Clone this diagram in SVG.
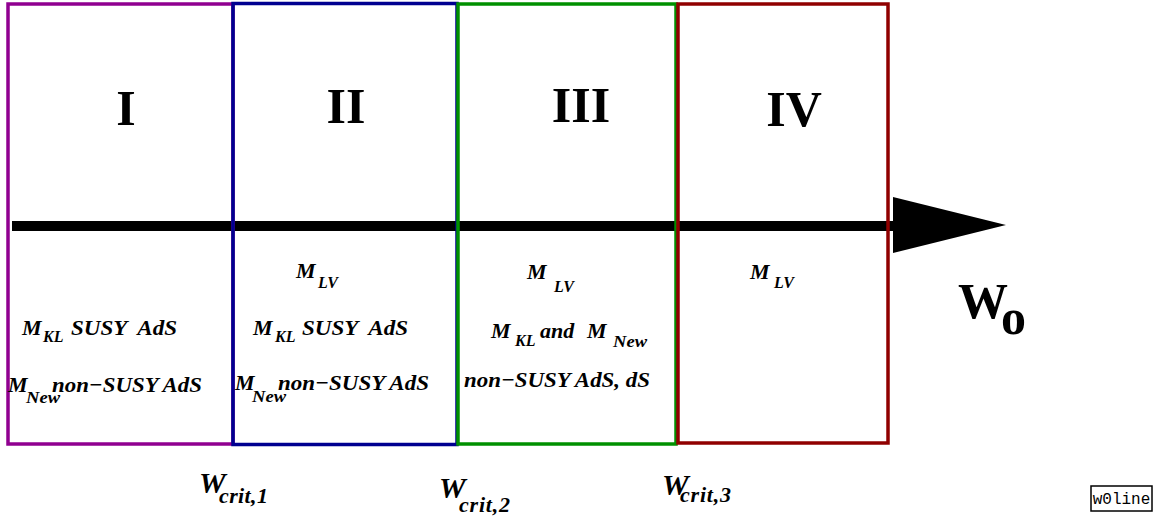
<svg xmlns="http://www.w3.org/2000/svg" width="1158" height="527" viewBox="0 0 1158 527">
<style>
.box{fill:none;stroke-width:3.5}
.rn{font-family:"Liberation Serif",serif;font-weight:bold;font-size:50px;text-anchor:middle;fill:#000}
.it{font-family:"Liberation Serif",serif;font-weight:bold;font-style:italic;font-size:22px;fill:#000}
.sub{font-family:"Liberation Serif",serif;font-weight:bold;font-style:italic;font-size:16px;fill:#000}
.wc{font-family:"Liberation Serif",serif;font-weight:bold;font-style:italic;font-size:30px;fill:#000}
.wcs{font-family:"Liberation Serif",serif;font-weight:bold;font-style:italic;font-size:22px;fill:#000}
.w0{font-family:"Liberation Serif",serif;font-weight:bold;font-size:50px;fill:#000}
</style>
<rect width="1158" height="527" fill="#fff"/>
<g id="connectors">
<line x1="12" y1="226" x2="895" y2="226" stroke="#000" stroke-width="10"/>
<polygon points="893,197 1006,225 893,253" fill="#000"/>
</g>
<g id="region1">
<rect class="box" x="8" y="4" width="225" height="440" stroke="#900090"/>
<text class="rn" x="126" y="125">I</text>
<text class="it" x="22" y="335">M</text><text class="sub" x="43" y="342">KL</text>
<text class="it" x="71" y="335" xml:space="preserve" textLength="106" lengthAdjust="spacingAndGlyphs">SUSY  AdS</text>
<text class="it" x="8" y="392">M</text><text class="sub" x="26" y="403" textLength="34" lengthAdjust="spacingAndGlyphs">New</text>
<text class="it" x="52" y="392" textLength="150" lengthAdjust="spacingAndGlyphs">non−SUSY AdS</text>
</g>
<g id="region2">
<rect class="box" x="233" y="3.5" width="224" height="441" stroke="#000090"/>
<text class="rn" x="346" y="123">II</text>
<text class="it" x="296" y="278">M</text><text class="sub" x="318" y="288">LV</text>
<text class="it" x="253" y="335">M</text><text class="sub" x="275" y="342">KL</text>
<text class="it" x="302" y="335" xml:space="preserve" textLength="106" lengthAdjust="spacingAndGlyphs">SUSY  AdS</text>
<text class="it" x="235" y="390">M</text><text class="sub" x="252" y="402" textLength="34" lengthAdjust="spacingAndGlyphs">New</text>
<text class="it" x="278" y="390" textLength="151" lengthAdjust="spacingAndGlyphs">non−SUSY AdS</text>
</g>
<g id="region3">
<rect class="box" x="458" y="4" width="218" height="440" stroke="#009000" stroke-width="3"/>
<text class="rn" x="581" y="122">III</text>
<text class="it" x="527" y="279">M</text><text class="sub" x="554" y="292">LV</text>
<text class="it" x="491" y="338">M</text><text class="sub" x="515" y="346">KL</text>
<text class="it" x="540" y="338">and</text>
<text class="it" x="587" y="338">M</text><text class="sub" x="613" y="347" textLength="34" lengthAdjust="spacingAndGlyphs">New</text>
<text class="it" x="464" y="387" textLength="186" lengthAdjust="spacingAndGlyphs">non−SUSY AdS, dS</text>
</g>
<g id="region4">
<rect class="box" x="678" y="4" width="210" height="439" stroke="#900000"/>
<text class="rn" x="794" y="126">IV</text>
<text class="it" x="750" y="279">M</text><text class="sub" x="774" y="288">LV</text>
</g>
<g id="axis-label">
<text class="w0" x="958" y="318">W</text><text class="w0" x="1001" y="334" font-size="48">o</text>
</g>
<g id="crit-labels">
<text class="wc" x="199" y="493">W</text><text class="wcs" x="219" y="503" textLength="49">crit,1</text>
<text class="wc" x="439" y="498">W</text><text class="wcs" x="459" y="512" textLength="51">crit,2</text>
<text class="wc" x="662" y="495">W</text><text class="wcs" x="680" y="502" textLength="51">crit,3</text>
</g>
<g id="title-tag">
<rect x="1091" y="486" width="61" height="25" fill="#fff" stroke="#000" stroke-width="1.5"/>
<text x="1121.5" y="504" font-family="Liberation Mono, monospace" font-size="16" text-anchor="middle" fill="#000">w0line</text>
</g>
</svg>
